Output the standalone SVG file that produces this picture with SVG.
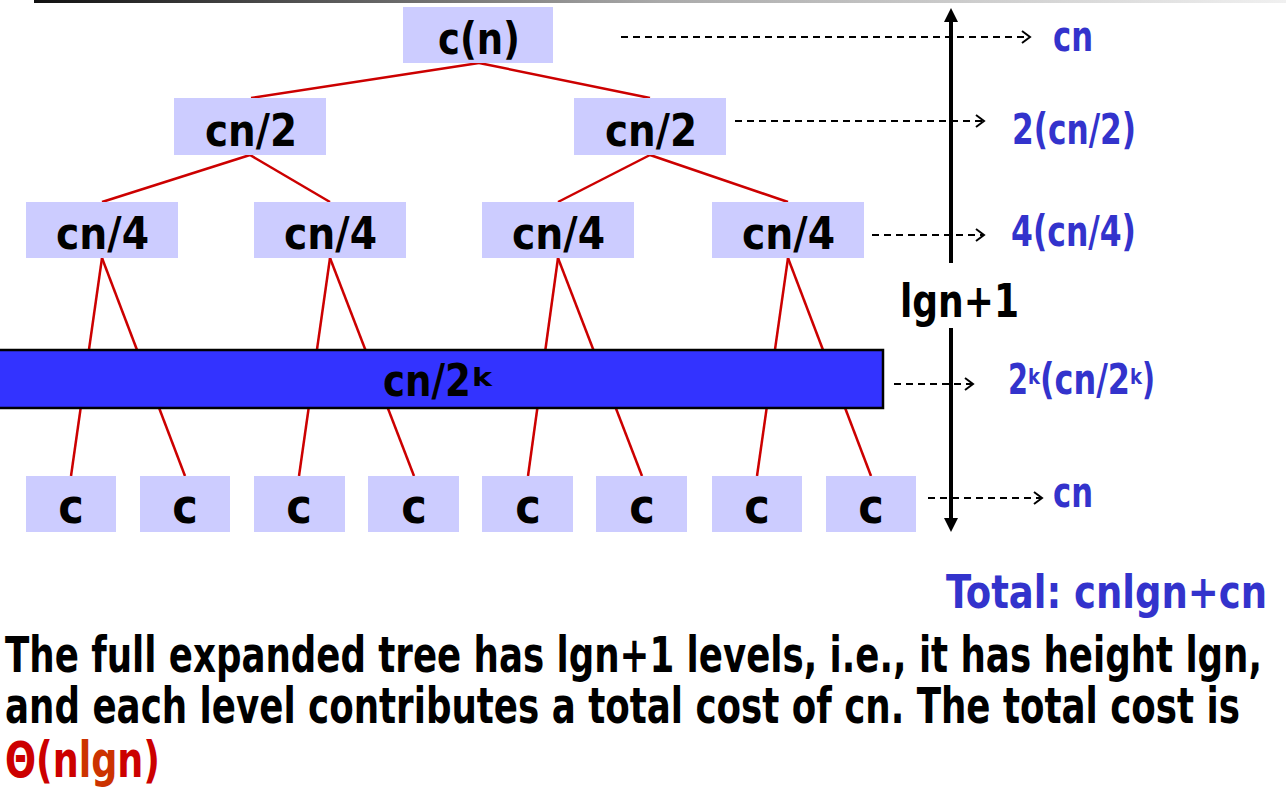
<svg xmlns="http://www.w3.org/2000/svg" width="1286" height="802" viewBox="0 0 1286 802">
<style>
.box{fill:#ccccff}
.t{font-family:"DejaVu Sans Condensed","DejaVu Sans",Verdana,sans-serif;font-weight:bold}
.k{fill:#000}
.b{fill:#3333cc}
.edge{stroke:#cc0000;stroke-width:2.5;fill:none}
.dash{stroke:#000;stroke-width:2;stroke-dasharray:7 5;fill:none}
.axis{stroke:#000;stroke-width:4;fill:none}
</style>
<defs>
<linearGradient id="topg" x1="0" y1="0" x2="1" y2="0">
<stop offset="0" stop-color="#111"/>
<stop offset="0.5" stop-color="#aaa"/>
<stop offset="1" stop-color="#f0f0f0"/>
</linearGradient>
<marker id="open" markerUnits="userSpaceOnUse" markerWidth="12" markerHeight="16" refX="9" refY="7" orient="auto">
<path d="M1,1 L9,7 L1,13" fill="none" stroke="#000" stroke-width="2"/>
</marker>
<marker id="solid" markerUnits="userSpaceOnUse" markerWidth="16" markerHeight="16" refX="1" refY="7" orient="auto">
<path d="M0,0 L14,7 L0,14 Z" fill="#000"/>
</marker>
</defs>
<rect x="34" y="0" width="1252" height="3" fill="url(#topg)"/>

<g id="connectors">
<line class="edge" x1="479" y1="63" x2="251" y2="98"/>
<line class="edge" x1="479" y1="63" x2="650" y2="98"/>
<line class="edge" x1="250" y1="155" x2="102" y2="202"/>
<line class="edge" x1="250" y1="155" x2="330" y2="202"/>
<line class="edge" x1="650" y1="155" x2="558" y2="202"/>
<line class="edge" x1="650" y1="155" x2="788" y2="202"/>
<line class="edge" x1="102" y1="258" x2="71" y2="476"/>
<line class="edge" x1="102" y1="258" x2="185" y2="476"/>
<line class="edge" x1="330" y1="258" x2="299" y2="476"/>
<line class="edge" x1="330" y1="258" x2="414" y2="476"/>
<line class="edge" x1="558" y1="258" x2="528" y2="476"/>
<line class="edge" x1="558" y1="258" x2="642" y2="476"/>
<line class="edge" x1="788" y1="258" x2="757" y2="476"/>
<line class="edge" x1="788" y1="258" x2="871" y2="476"/>
<line class="dash" x1="621" y1="37" x2="1030" y2="37" marker-end="url(#open)"/>
<line class="dash" x1="735" y1="121" x2="984" y2="121" marker-end="url(#open)"/>
<line class="dash" x1="872" y1="235" x2="984" y2="235" marker-end="url(#open)"/>
<line class="dash" x1="894" y1="384" x2="973" y2="384" marker-end="url(#open)"/>
<line class="dash" x1="928" y1="498" x2="1042" y2="498" marker-end="url(#open)"/>
<line class="axis" x1="951" y1="263" x2="951" y2="21" marker-end="url(#solid)"/>
<line class="axis" x1="951" y1="328" x2="951" y2="519" marker-end="url(#solid)"/>
</g>

<g id="n-root"><rect class="box" x="403" y="7" width="150" height="56"/><text class="t k" x="438" y="54" font-size="44" textLength="82" lengthAdjust="spacingAndGlyphs">c(n)</text></g>
<g id="n-l1a"><rect class="box" x="174" y="98" width="152" height="57"/><text class="t k" x="205" y="146" font-size="44" textLength="92" lengthAdjust="spacingAndGlyphs">cn/2</text></g>
<g id="n-l1b"><rect class="box" x="574" y="98" width="152" height="57"/><text class="t k" x="605" y="146" font-size="44" textLength="92" lengthAdjust="spacingAndGlyphs">cn/2</text></g>
<g id="n-l2a"><rect class="box" x="26" y="202" width="152" height="56"/><text class="t k" x="56" y="249" font-size="44" textLength="93" lengthAdjust="spacingAndGlyphs">cn/4</text></g>
<g id="n-l2b"><rect class="box" x="254" y="202" width="152" height="56"/><text class="t k" x="284" y="249" font-size="44" textLength="93" lengthAdjust="spacingAndGlyphs">cn/4</text></g>
<g id="n-l2c"><rect class="box" x="482" y="202" width="152" height="56"/><text class="t k" x="512" y="249" font-size="44" textLength="93" lengthAdjust="spacingAndGlyphs">cn/4</text></g>
<g id="n-l2d"><rect class="box" x="712" y="202" width="152" height="56"/><text class="t k" x="742" y="249" font-size="44" textLength="93" lengthAdjust="spacingAndGlyphs">cn/4</text></g>

<g id="n-levelk"><rect x="-2" y="350" width="885" height="58" fill="#3333ff" stroke="#000" stroke-width="2.5"/>
<text class="t k" font-size="44"><tspan x="383" y="396" textLength="88" lengthAdjust="spacingAndGlyphs">cn/2</tspan><tspan x="472" y="386" font-size="24" textLength="20" lengthAdjust="spacingAndGlyphs">k</tspan></text></g>

<g id="n-leaf1"><rect class="box" x="26" y="476" width="90" height="56"/><text class="t k" x="71" y="523" font-size="48" text-anchor="middle">c</text></g>
<g id="n-leaf2"><rect class="box" x="140" y="476" width="90" height="56"/><text class="t k" x="185" y="523" font-size="48" text-anchor="middle">c</text></g>
<g id="n-leaf3"><rect class="box" x="254" y="476" width="91" height="56"/><text class="t k" x="299" y="523" font-size="48" text-anchor="middle">c</text></g>
<g id="n-leaf4"><rect class="box" x="368" y="476" width="91" height="56"/><text class="t k" x="414" y="523" font-size="48" text-anchor="middle">c</text></g>
<g id="n-leaf5"><rect class="box" x="482" y="476" width="91" height="56"/><text class="t k" x="528" y="523" font-size="48" text-anchor="middle">c</text></g>
<g id="n-leaf6"><rect class="box" x="596" y="476" width="91" height="56"/><text class="t k" x="642" y="523" font-size="48" text-anchor="middle">c</text></g>
<g id="n-leaf7"><rect class="box" x="712" y="476" width="90" height="56"/><text class="t k" x="757" y="523" font-size="48" text-anchor="middle">c</text></g>
<g id="n-leaf8"><rect class="box" x="826" y="476" width="90" height="56"/><text class="t k" x="871" y="523" font-size="48" text-anchor="middle">c</text></g>

<g id="labels">
<text class="t b" x="1053" y="51" font-size="42" textLength="40" lengthAdjust="spacingAndGlyphs">cn</text>
<text class="t b" x="1012" y="144" font-size="42" textLength="124" lengthAdjust="spacingAndGlyphs">2(cn/2)</text>
<text class="t b" x="1011" y="246" font-size="42" textLength="125" lengthAdjust="spacingAndGlyphs">4(cn/4)</text>
<text class="t b" font-size="42"><tspan x="1008" y="394" textLength="20" lengthAdjust="spacingAndGlyphs">2</tspan><tspan x="1028" y="384" font-size="22" textLength="12" lengthAdjust="spacingAndGlyphs">k</tspan><tspan x="1040" y="394" textLength="90" lengthAdjust="spacingAndGlyphs">(cn/2</tspan><tspan x="1130" y="384" font-size="22" textLength="12" lengthAdjust="spacingAndGlyphs">k</tspan><tspan x="1142" y="394" textLength="13" lengthAdjust="spacingAndGlyphs">)</tspan></text>
<text class="t b" x="1053" y="507" font-size="42" textLength="40" lengthAdjust="spacingAndGlyphs">cn</text>
<text class="t k" x="900" y="317" font-size="47" textLength="119" lengthAdjust="spacingAndGlyphs">lgn+1</text>
<text class="t b" x="946" y="608" font-size="46" textLength="321" lengthAdjust="spacingAndGlyphs">Total: cnlgn+cn</text>
</g>

<g id="caption">
<text class="t k" x="5" y="672" font-size="49" textLength="1257" lengthAdjust="spacingAndGlyphs">The full expanded tree has lgn+1 levels, i.e., it has height lgn,</text>
<text class="t k" x="5" y="723" font-size="49" textLength="1235" lengthAdjust="spacingAndGlyphs">and each level contributes a total cost of cn. The total cost is</text>
<text class="t" x="5" y="777" font-size="49" textLength="155" lengthAdjust="spacingAndGlyphs"><tspan fill="#cc0000">Θ(n</tspan><tspan fill="#cc3300">lg</tspan><tspan fill="#cc0000">n)</tspan></text>
</g>
</svg>
